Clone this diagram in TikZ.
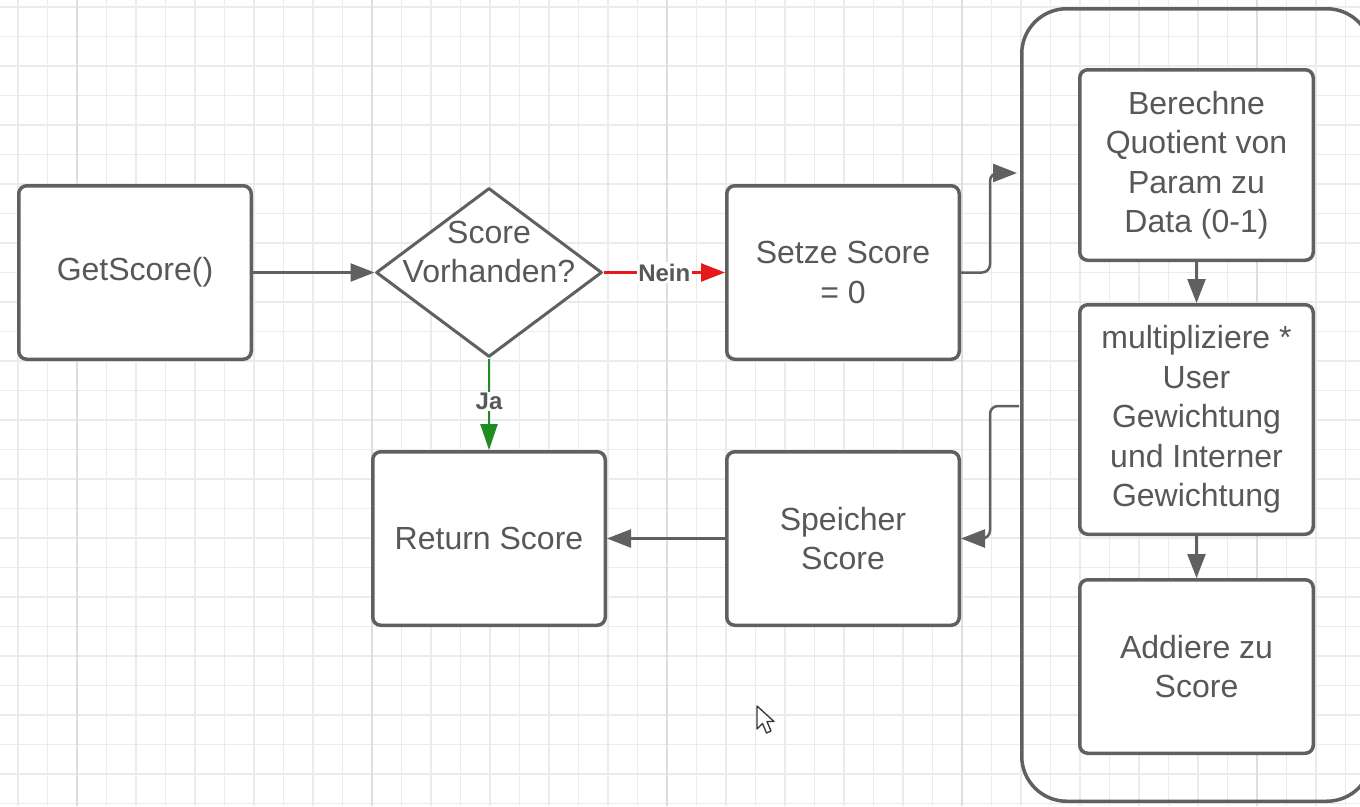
\documentclass[tikz,border=0pt]{standalone}
\usepackage{fontspec}
\setmainfont{Liberation Sans}
\usetikzlibrary{shapes.geometric,arrows.meta,calc}
\definecolor{edgec}{HTML}{606060}
\definecolor{txtc}{HTML}{585858}
\definecolor{gridc}{HTML}{EBEBED}
\definecolor{gridm}{HTML}{DEDEE1}
\definecolor{neinc}{HTML}{E61A1A}
\definecolor{jac}{HTML}{1E8C1E}
\begin{document}
\begin{tikzpicture}[x=1pt,y=-1pt,
  box/.style={draw=edgec,line width=3.5pt,rounded corners=8pt,fill=white,text=txtc,
    align=center,inner sep=0pt,font=\fontsize{32}{39.5}\selectfont,
    minimum width=232.5pt,minimum height=173.5pt},
  decision/.style={draw=edgec,line width=3pt,line join=round,fill=white,shape=diamond,
    inner sep=0pt,minimum width=226pt,minimum height=169pt},
  txtnode/.style={text=txtc,align=center,inner sep=0pt,font=\fontsize{32}{39.5}\selectfont},
  container/.style={draw=edgec,line width=3.5pt,rounded corners=45pt,
    minimum width=350pt,minimum height=792.5pt,inner sep=0pt},
  conn/.style={draw=edgec,line width=2.5pt,-{Triangle[length=24pt,width=18pt]}},
  lbl/.style={fill=white,text=txtc,font=\fontsize{24}{26}\selectfont\bfseries,inner sep=1.5pt},
]
\useasboundingbox (0,0) rectangle (1360,806);
\begin{scope}
\clip (0,0) rectangle (1360,806);
\fill[white] (0,0) rectangle (1360,806);
% grid
\foreach \k in {0,...,46} {\draw[gridc,line width=1.6pt] ({18+29.5*\k},0) -- ({18+29.5*\k},806);}
\foreach \k in {0,...,27} {\draw[gridc,line width=1.6pt] (0,{7+29.5*\k}) -- (1360,{7+29.5*\k});}
\foreach \k in {0,...,4} {\draw[gridm,line width=2.4pt] ({77+295*\k},0) -- ({77+295*\k},806);}

% container
\node[container] (cont) at (1196.75,405) {};
\end{scope}

% nodes
\node[box] (get) at (135,272.5) {GetScore()};
\node[decision] (dec) at (489,272.5) {};
\node[txtnode] (dectxt) at (489,252) {Score\\Vorhanden?};
\node[box] (setze) at (843,272.5) {Setze Score\\= 0};
\node[box] (ret) at (489,538.5) {Return Score};
\node[box] (spei) at (843,538.5) {Speicher\\Score};
\node[box,minimum width=233.5pt,minimum height=190.5pt] (ber) at (1196.5,165) {Berechne\\Quotient von\\Param zu\\Data (0-1)};
\node[box,minimum width=233.5pt,minimum height=229.5pt] (mul) at (1196.5,419.5) {multipliziere *\\User\\Gewichtung\\und Interner\\Gewichtung};
\node[box,minimum width=233.5pt] (add) at (1196.5,666.5) {Addiere zu\\Score};

% connectors
\draw[conn] (get.east) -- (dec.west);
\draw[conn,draw=neinc,-{Triangle[length=24pt,width=18pt,fill=neinc]}] (dec.east) -- node[lbl,pos=0.5] {Nein} (setze.west);
\draw[conn,draw=jac,-{Triangle[length=26pt,width=17pt,fill=jac]}] (dec.south) -- node[lbl,pos=0.47] {Ja} (ret.north);
\coordinate (cin) at (1017,173);
\coordinate (cout) at (1019,406);
\draw[conn,rounded corners=8pt] (setze.east) -- ++(29,0) |- (cin);
\draw[conn,rounded corners=8pt] (cout) -- ++(-29,0) |- (spei.east);
\draw[conn] (spei.west) -- (ret.east);
\draw[conn] (ber.south) -- (mul.north);
\draw[conn] (mul.south) -- (add.north);

% mouse cursor
\draw[fill=white,draw=black!80,line width=1.3pt,line join=round]
  (757,706) -- (757,729) -- (762.5,723.5) -- (766.5,733) -- (771,731) -- (767,721.5) -- (774,721.5) -- cycle;
\end{tikzpicture}
\end{document}
